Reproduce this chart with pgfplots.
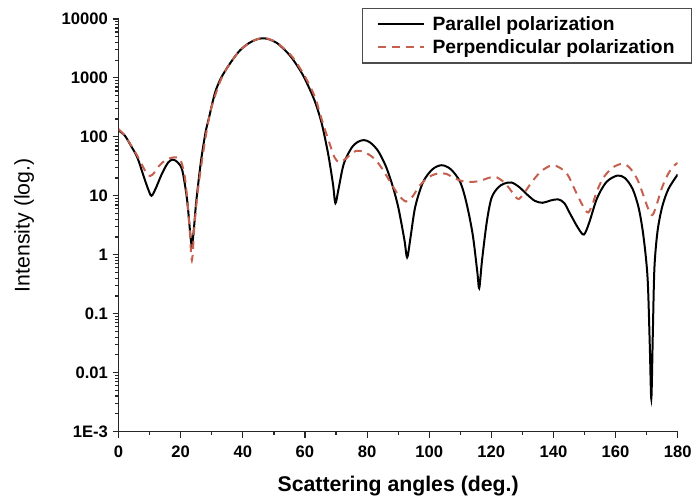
\documentclass[border=0pt]{standalone}
\usepackage{fontspec}
\setmainfont{Liberation Sans}
\usepackage{pgfplots}
\pgfplotsset{compat=1.18}
\definecolor{perpc}{RGB}{196,96,78}
\begin{document}
\begin{tikzpicture}
\begin{axis}[
  scale only axis,
  width=420.75pt, height=310.5pt,
  xmin=0, xmax=180,
  ymode=log, ymin=1e-3, ymax=1e4,
  axis x line*=bottom, axis y line*=left,
  axis line style={-, line width=1.1pt, black!85},
  tick align=outside,
  major tick length=4.5pt, minor tick length=2.5pt,
  every tick/.style={line width=0.9pt, black!85},
  xtick={0,20,...,180}, minor xtick={10,30,...,170},
  ytick={1e-3,1e-2,1e-1,1,10,100,1000,10000},
  yticklabels={1E-3,0.01,0.1,1,10,100,1000,10000},
  minor ytick={2e-3,3e-3,4e-3,5e-3,6e-3,7e-3,8e-3,9e-3,
    2e-2,3e-2,4e-2,5e-2,6e-2,7e-2,8e-2,9e-2,
    0.2,0.3,0.4,0.5,0.6,0.7,0.8,0.9,
    2,3,4,5,6,7,8,9,20,30,40,50,60,70,80,90,
    200,300,400,500,600,700,800,900,2000,3000,4000,5000,6000,7000,8000,9000},
  /pgf/number format/assume math mode=true,
  tick label style={font=\fontsize{12.5}{14}\selectfont\bfseries},
  xticklabel style={yshift=-3pt},
  xlabel={Scattering angles (deg.)},
  ylabel={Intensity (log.)},
  xlabel style={font=\fontsize{16}{19}\selectfont\bfseries, yshift=-7pt},
  ylabel style={font=\fontsize{16}{19}\selectfont, yshift=14pt},
  legend cell align=left,
  legend style={at={(axis description cs:1,1)}, anchor=north east,
    xshift=10.5pt, yshift=8.25pt,
    draw=black!70, line width=0.8pt, fill=white,
    font=\fontsize{14.5}{17}\selectfont\bfseries,
    inner xsep=11pt, inner ysep=4.5pt, row sep=2pt,
    nodes={inner sep=1.5pt}},
  legend image code/.code={\draw[#1] (0pt,0pt) -- (35pt,0pt); \path (39pt,0pt);},
]
\addplot[black, line width=1.5pt, smooth, tension=0.5] coordinates {
(0,128) (2,105) (4,70) (6,45) (8,22) (9.5,13) (10.6,10) (12,13.5) (14,24) (16,37)
(17.5,41) (19,37) (20.5,27) (22,9) (23,2.5) (23.6,1.4) (24.3,3) (25,8) (26.5,38)
(28,120) (29,200) (31,550) (33,1000) (36,1800) (39,2900) (42,3900) (44.5,4500)
(46.5,4700) (48.5,4500) (51,3900) (54,2800) (56,2100) (59,1200) (61.5,650)
(63.5,360) (65.5,160) (67.5,50) (69,16) (69.8,7.5) (70.8,13) (72.5,35) (75,65)
(77,82) (79,88) (81,80) (83.5,58) (86,32) (88,16) (90,6.5) (92,1.8) (92.9,0.9)
(94,2) (95.5,6.5) (98,17) (101,28) (104,33) (107,28) (110,17) (112,7.5) (114,2.2)
(115.5,0.5) (116.1,0.27) (117,0.8) (118.5,3.5) (120,9) (122,13.5) (124,16)
(126.5,16.8) (129,14) (131.5,10.5) (134,8.2) (136.5,7.6) (139,8.3) (141.5,8.7)
(143.5,7.5) (145.5,4.8) (148,2.8) (149.8,2.2) (151.5,3.5) (154,9) (157,17)
(160.5,22) (163,20) (165.5,13) (167.5,6) (169,2) (170.3,0.4) (171,0.03)
(171.5,0.0036) (172,0.05) (172.5,0.6) (173.5,2.5) (175,6.5) (177,13) (180,23)
};
\addlegendentry{Parallel polarization}
\addplot[perpc, line width=1.5pt, dash pattern=on 6pt off 4.5pt, smooth, tension=0.5] coordinates {
(0,135) (2,105) (4,72) (6,48) (8,30) (9.5,22) (11,23) (13,32) (15,40) (17,44)
(18.6,45) (20,40) (21.5,18) (22.8,3) (23.6,0.8) (24.4,3) (25.5,12) (27,45)
(28.5,140) (30,330) (33,950) (36,1800) (39,2900) (42,3900) (44.5,4500)
(46.5,4750) (48.5,4550) (51,3950) (54,2900) (56,2250) (59,1300) (61.5,750)
(63.5,430) (65,230) (66.6,125) (68,75) (69.5,45) (71,37) (73,42) (75.5,55)
(77.5,58) (80,52) (82.5,42) (85,28) (87.5,17) (90,10.5) (92.5,8) (94.5,9.5)
(97,15) (100,21) (103,24) (105.5,23.5) (108,20) (111,17.5) (114,17.2) (116.5,18)
(119,20) (121.2,21) (123.5,18) (125.5,14) (127.5,10) (128.8,8.8) (130.5,11)
(133,17) (136,26) (139.5,33) (142,30) (144.5,23) (146.5,14) (148,9.5) (150,6)
(151.2,5.2) (152.5,7) (154,12) (156,20) (159,30) (162.3,35) (164.5,30) (167,19)
(169,10) (170.5,6) (171.8,4.7) (173,6.5) (175,14) (177,24) (179,33) (180,36)
};
\addlegendentry{Perpendicular polarization}
\end{axis}
\path ([xshift=-89.25pt,yshift=-49.5pt]current axis.south west) rectangle ([xshift=12pt,yshift=14.25pt]current axis.north east);
\end{tikzpicture}
\end{document}
